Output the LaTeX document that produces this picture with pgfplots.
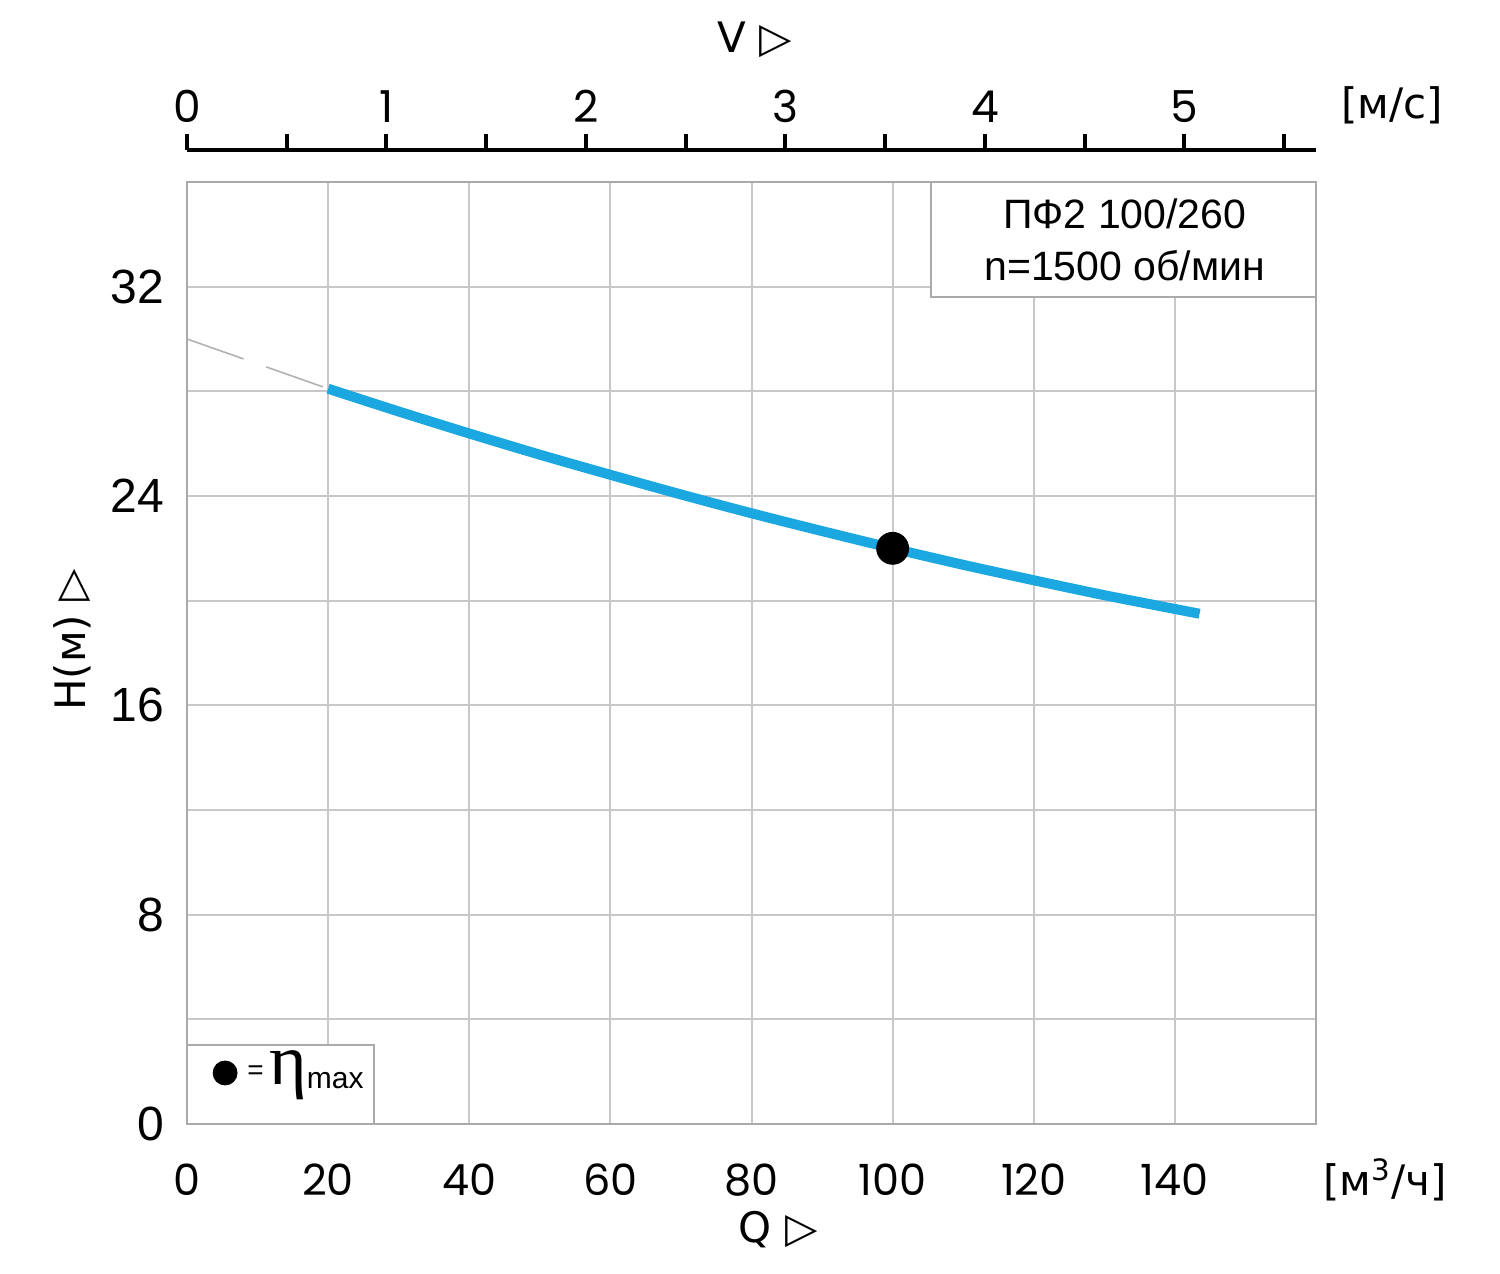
\documentclass[border=0pt]{standalone}
\usepackage{pgfplots}
\pgfplotsset{compat=1.18}
\usepackage{fontspec}
\setmainfont{Liberation Sans}
\newfontfamily\tickfont{Poppins}
\newfontfamily\dejavu{DejaVu Sans}
\newfontfamily\serif{Liberation Serif}
\definecolor{curve}{RGB}{27,167,224}
\definecolor{gridc}{RGB}{200,200,200}
\begin{document}
\begin{tikzpicture}
\useasboundingbox (-93.5pt,-75pt) rectangle (656.5pt,562pt);
\begin{axis}[
  at={(0,0)}, anchor=south west,
  scale only axis, width=564.5pt, height=471pt,
  xmin=0, xmax=160, ymin=0, ymax=36,
  xtick={0,20,...,160}, ytick={0,4,...,36},
  xticklabels={0,20,40,60,80,100,120,140,},
  yticklabels={0,,8,,16,,24,,32,},
  /pgf/number format/assume math mode=true,
  major tick length=0pt,
  grid=major,
  major grid style={gridc, line width=1pt},
  axis line style={gridc!85!black, line width=1pt},
  xticklabel style={font=\tickfont\fontsize{21.5}{24}\selectfont, yshift=-16.5pt},
  yticklabel style={font=\fontsize{24}{27}\selectfont, xshift=-8pt},
  clip=false,
]
\addplot[gray!60, line width=0.8pt, dash pattern=on 30pt off 12pt] coordinates {(0,30) (20,28.1)};
\addplot[curve, line width=5pt, smooth] coordinates {
(20,28.10) (30,27.23) (40,26.39) (50,25.58) (60,24.81) (70,24.06) (80,23.34) (90,22.66) (100,22.00) (110,21.37) (120,20.78) (130,20.21) (143.5,19.50)};
\addplot[only marks, mark=*, mark size=8pt, black] coordinates {(100,22.0)};
\filldraw[fill=white, draw=gridc!85!black, line width=1pt] (axis cs:105.4,31.6) rectangle (axis cs:160,36);
\node[font=\fontsize{20.5}{24}\selectfont] at (axis cs:132.9,34.8) {ПФ2 100/260};
\node[font=\fontsize{20.5}{24}\selectfont] at (axis cs:132.9,32.8) {n=1500 об/мин};
\filldraw[fill=white, draw=gridc!85!black, line width=1pt] (axis cs:0,0) rectangle (axis cs:26.5,3.02);
\addplot[only marks, mark=*, mark size=6pt, black] coordinates {(5.4,1.95)};
\node[font=\fontsize{14}{16}\selectfont, anchor=center] at (axis cs:9.7,1.95) {=};
\node[anchor=west, inner sep=0pt] at (axis cs:11.6,1.85) {{\serif\fontsize{36}{40}\selectfont η}\raisebox{-2pt}{\fontsize{15}{17}\selectfont max}};
\end{axis}
\begin{axis}[
  at={(0,486pt)}, anchor=south west,
  scale only axis, width=564.5pt, height=1pt,
  xmin=0, xmax=5.66, ymin=0, ymax=1,
  axis x line*=top, hide y axis,
  xtick={0,0.5,...,5.5},
  xticklabels={0,,1,,2,,3,,4,,5,},
  /pgf/number format/assume math mode=true,
  tick align=outside,
  major tick length=8pt,
  tick style={black, line width=2pt},
  axis line style={black, line width=2pt, -},
  xticklabel style={font=\tickfont\fontsize{22}{25}\selectfont, yshift=2pt},
]
\addplot[draw=none] coordinates {(0,0)};
\end{axis}
\node[font=\dejavu\fontsize{21}{24}\selectfont] at (284pt,542pt) {V ▷};
\node[font=\dejavu\fontsize{21}{24}\selectfont] at (602.5pt,509.5pt) {[м/с]};
\node[font=\dejavu\fontsize{21}{24}\selectfont] at (295.5pt,-53pt) {Q ▷};
\node[font=\dejavu\fontsize{21}{24}\selectfont] at (599pt,-28pt) {[м\textsuperscript{3}/ч]};
\node[font=\dejavu\fontsize{21}{24}\selectfont, rotate=90] at (-57.5pt,242pt) {H(м) ▷};
\end{tikzpicture}
\end{document}
